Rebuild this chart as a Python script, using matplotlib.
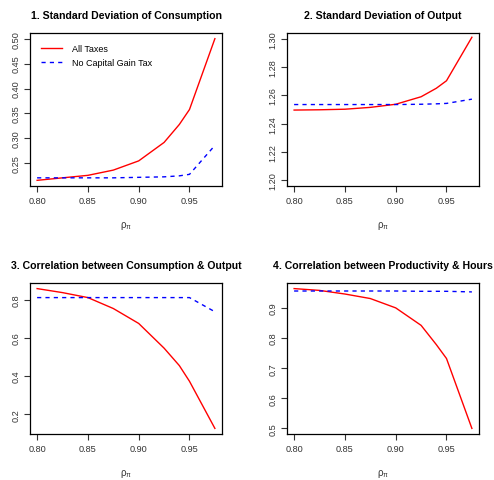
import matplotlib
matplotlib.use("Agg")
import matplotlib.pyplot as plt

plt.rcParams['font.family'] = ['Liberation Sans', 'DejaVu Sans']
plt.rcParams['mathtext.default'] = 'regular'

W, H = 494, 481

rho = [0.80, 0.825, 0.85, 0.875, 0.90, 0.925, 0.94, 0.95, 0.975]

sd_cons_all = [0.216, 0.221, 0.226, 0.2365, 0.255, 0.292, 0.328, 0.358, 0.500]
sd_cons_nocg = [0.221, 0.221, 0.221, 0.221, 0.222, 0.223, 0.225, 0.228, 0.286]

sd_out_all = [1.2496, 1.2498, 1.2502, 1.2515, 1.2537, 1.2590, 1.2650, 1.2703, 1.3010]
sd_out_nocg = [1.2535, 1.2535, 1.2535, 1.2535, 1.2535, 1.2537, 1.2540, 1.2543, 1.2573]

corr_cy_all = [0.857, 0.836, 0.810, 0.753, 0.675, 0.546, 0.455, 0.373, 0.127]
corr_cy_nocg = [0.810, 0.810, 0.810, 0.810, 0.810, 0.810, 0.810, 0.810, 0.736]

corr_ph_all = [0.964, 0.958, 0.946, 0.931, 0.900, 0.842, 0.778, 0.732, 0.500]
corr_ph_nocg = [0.956, 0.956, 0.956, 0.956, 0.956, 0.955, 0.955, 0.955, 0.953]

titles = ["1. Standard Deviation of Consumption",
          "2. Standard Deviation of Output",
          "3. Correlation between Consumption & Output",
          "4. Correlation between Productivity & Hours"]
series = [(sd_cons_all, sd_cons_nocg), (sd_out_all, sd_out_nocg),
          (corr_cy_all, corr_cy_nocg), (corr_ph_all, corr_ph_nocg)]
yticks = [[0.25, 0.30, 0.35, 0.40, 0.45, 0.50],
          [1.20, 1.22, 1.24, 1.26, 1.28, 1.30],
          [0.2, 0.4, 0.6, 0.8],
          [0.5, 0.6, 0.7, 0.8, 0.9]]
yfmt = ["{:.2f}", "{:.2f}", "{:.1f}", "{:.1f}"]
ylims = [None, (1.20, 1.30), None, None]
xticks = [0.80, 0.85, 0.90, 0.95]
legend_labels = ["All Taxes", "No Capital Gain Tax"]

# axes boxes in pixels: left, top, right, bottom
boxes = [(30, 34, 222, 187), (287, 34, 479, 187),
         (30, 284, 222, 435), (287, 284, 479, 435)]

fig = plt.figure(figsize=(W / 100, H / 100), dpi=100)

for i in range(4):
    l, t, r, b = boxes[i]
    ax = fig.add_axes([l / W, 1 - b / H, (r - l) / W, (b - t) / H])
    a, n = series[i]
    ax.plot(rho, a, color='red', lw=1.0, label=legend_labels[0])
    ax.plot(rho, n, color='blue', lw=1.0, ls=(0, (3, 3)), label=legend_labels[1])
    xr = max(rho) - min(rho)
    ax.set_xlim(min(rho) - 0.04 * xr, max(rho) + 0.04 * xr)
    if ylims[i] is not None:
        lo, hi = ylims[i]
    else:
        lo, hi = min(a + n), max(a + n)
    yr = hi - lo
    ax.set_ylim(lo - 0.04 * yr, hi + 0.04 * yr)
    ax.set_xticks(xticks)
    ax.set_xticklabels(["{:.2f}".format(v) for v in xticks])
    ax.set_yticks(yticks[i])
    ax.set_yticklabels([yfmt[i].format(v) for v in yticks[i]], rotation=90, va='center')
    ax.tick_params(direction='out', length=4, width=0.8, labelsize=6.6, pad=3,
                   color='#333333', labelcolor='#333333')
    for s in ax.spines.values():
        s.set_linewidth(0.9)
    ax.set_title(titles[i], fontsize=7.55, fontweight='bold', pad=11)
    ax.set_xlabel("ρ$_π$", fontsize=7, labelpad=10, color='#333333')
    if i == 0:
        ax.legend(loc='upper left', frameon=False, fontsize=6.5,
                  handlelength=2.3, handletextpad=1.2, borderaxespad=0.8,
                  labelspacing=0.55)

fig.savefig("out.png", dpi=100)
